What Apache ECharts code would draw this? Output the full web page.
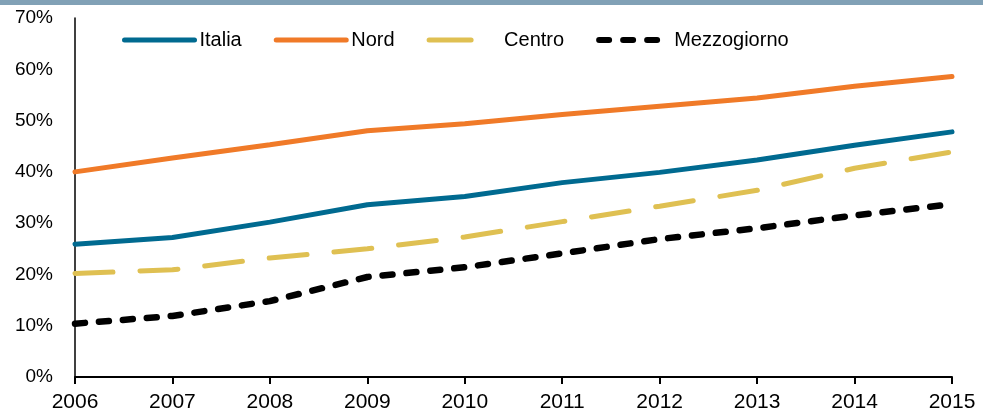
<!DOCTYPE html>
<html>
<head>
<meta charset="utf-8">
<script src="https://cdn.jsdelivr.net/npm/echarts@6/dist/echarts.min.js"></script>
<style>
  html, body { margin: 0; padding: 0; background: #fff; }
  #chart { width: 983px; height: 417px; }
</style>
</head>
<body>
<div id="chart"></div>
<script>
// anni e valori (%)
var years = ['2006', '2007', '2008', '2009', '2010', '2011', '2012', '2013', '2014', '2015'];
var italia = [25.9, 27.2, 30.2, 33.6, 35.2, 37.9, 39.9, 42.3, 45.2, 47.8];
var nord = [40.0, 42.7, 45.3, 48.0, 49.4, 51.2, 52.8, 54.4, 56.7, 58.6];
var centro = [20.2, 20.9, 23.2, 25.0, 27.3, 30.3, 33.3, 36.4, 40.7, 43.9];
var mezzogiorno = [10.4, 11.9, 14.8, 19.5, 21.4, 24.1, 26.9, 29.0, 31.5, 33.7];

var font = '"Liberation Sans", Arial, sans-serif';

function serie(name, data, color, type, width) {
    return {
        name: name,
        type: 'line',
        data: data,
        symbol: 'none',
        smooth: false,
        lineStyle: { color: color, width: width, type: type, cap: 'round' },
        itemStyle: { color: color }
    };
}

var option = {
    animation: false,
    textStyle: { fontFamily: font },
    graphic: [{
        type: 'rect',
        left: 0, top: 0,
        shape: { width: 983, height: 5 },
        style: { fill: '#81a1b6' }
    }],
    legend: {
        top: 30,
        left: 122,
        padding: 0,
        itemWidth: 70,
        itemHeight: 14,
        itemGap: 32,
        itemStyle: { opacity: 0 },
        lineStyle: { width: 5, cap: 'round' },
        textStyle: { fontSize: 20, color: '#000', fontFamily: font },
        data: [
            'Italia',
            'Nord',
            { name: 'Centro', lineStyle: { type: [42, 80] } },
            { name: 'Mezzogiorno', lineStyle: { width: 6 } }
        ]
    },
    grid: { left: 75, right: 31, top: 18, bottom: 40 },
    xAxis: {
        type: 'category',
        data: years,
        boundaryGap: false,
        axisLine: { lineStyle: { color: '#000', width: 2 } },
        axisTick: { show: true, length: 7, lineStyle: { color: '#000', width: 2 } },
        axisLabel: { color: '#000', fontSize: 21, margin: 15, fontFamily: font }
    },
    yAxis: {
        type: 'value',
        min: 0,
        max: 70,
        interval: 10,
        splitLine: { show: false },
        axisLine: { show: true, lineStyle: { color: '#000', width: 1.5 } },
        axisTick: { show: false },
        axisLabel: {
            color: '#000', fontSize: 19, margin: 22, fontFamily: font,
            formatter: '{value}%'
        }
    },
    series: [
        serie('Italia', italia, '#006a90', 'solid', 5),
        serie('Nord', nord, '#f07a28', 'solid', 5),
        serie('Centro', centro, '#dfc052', [38, 27], 5),
        serie('Mezzogiorno', mezzogiorno, '#000000', [10, 14], 6.5)
    ]
};

var myChart = echarts.init(document.getElementById('chart'));
myChart.setOption(option);
</script>
</body>
</html>
